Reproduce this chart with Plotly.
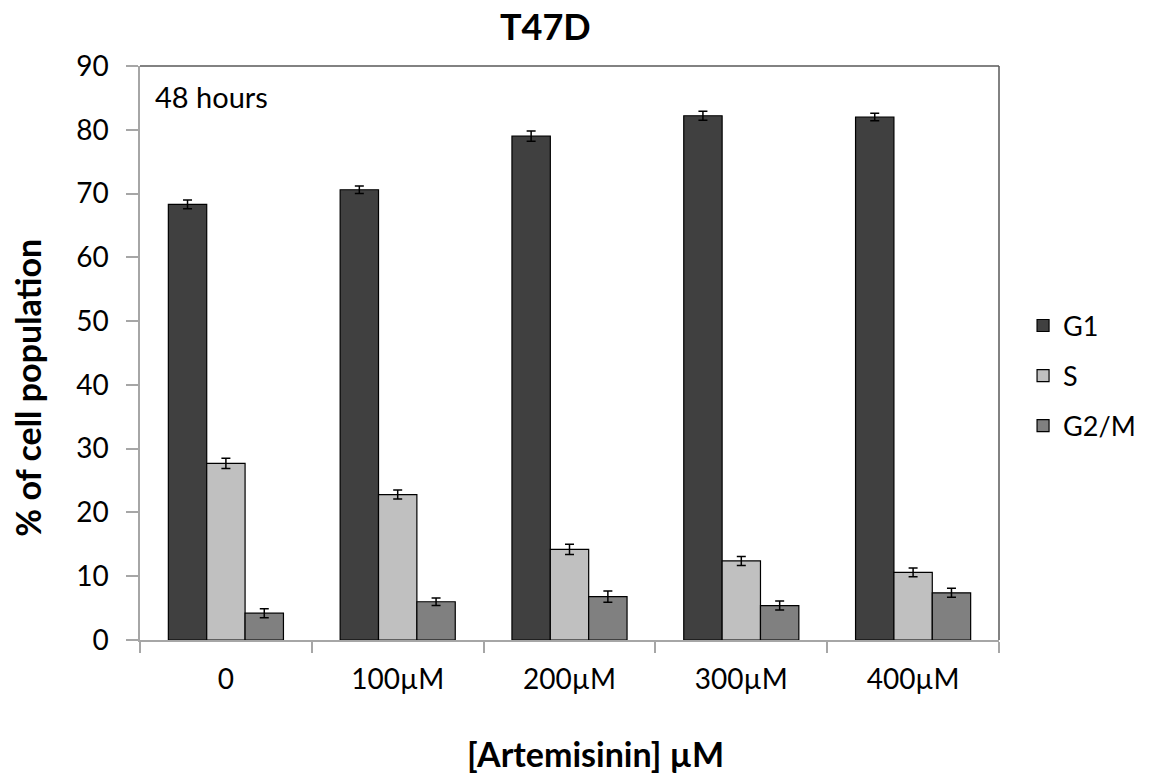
import plotly.graph_objects as go

# Cell-cycle distribution of T47D cells after 48 h of artemisinin treatment
doses = ["0", "100µM", "200µM", "300µM", "400µM"]
g1 = [68.3, 70.6, 79.0, 82.2, 82.0]
s_phase = [27.7, 22.8, 14.2, 12.4, 10.6]
g2m = [4.2, 6.0, 6.8, 5.4, 7.4]
g1_err = [0.7, 0.6, 0.8, 0.7, 0.6]
s_err = [0.8, 0.7, 0.8, 0.7, 0.7]
g2m_err = [0.7, 0.6, 0.9, 0.7, 0.7]

phases = [
    ("G1", g1, g1_err, "#404040"),
    ("S", s_phase, s_err, "#c0c0c0"),
    ("G2/M", g2m, g2m_err, "#808080"),
]

FONT = "Lato, 'Open Sans', sans-serif"

fig = go.Figure()
for name, vals, errs, color in phases:
    fig.add_trace(go.Bar(
        name=name, x=doses, y=vals, legendgroup=name,
        marker=dict(color=color, line=dict(color="#000000", width=1.2)),
        error_y=dict(type="data", array=errs, visible=True,
                     color="#000000", thickness=1.5, width=4.5),
    ))

fig.update_layout(
    width=1153, height=773,
    margin=dict(l=140, r=151, t=66, b=133),
    paper_bgcolor="white", plot_bgcolor="white",
    barmode="group", bargap=0.33, bargroupgap=0,
    font=dict(family=FONT, size=24, color="#000000"),
    showlegend=True,
    legend=dict(x=1.028, y=0.46, xanchor="left", yanchor="middle",
                font=dict(size=27), tracegroupgap=12,
                bgcolor="rgba(0,0,0,0)"),
    title=dict(text="<b>T47D</b>", x=0.473, xanchor="center",
               y=0.965, yanchor="middle", font=dict(size=36)),
)

fig.update_yaxes(
    range=[0, 90], dtick=10, showgrid=False, zeroline=False,
    showline=True, linecolor="#a6a6a6", linewidth=1.5,
    ticks="outside", ticklen=12, tickcolor="#a6a6a6", tickwidth=1.5,
    tickfont=dict(size=28), ticklabelstandoff=12,
)
fig.update_xaxes(
    showgrid=False, showline=True, linecolor="#a6a6a6", linewidth=1.5,
    ticks="outside", tickson="boundaries", ticklen=11,
    tickcolor="#a6a6a6", tickwidth=1.5, tickfont=dict(size=28),
    ticklabelstandoff=14,
)

# darker frame along the top and right of the plotting area
fig.add_shape(type="line", xref="paper", yref="paper", x0=0, x1=1, y0=1, y1=1,
              line=dict(color="#595959", width=1.5))
fig.add_shape(type="line", xref="paper", yref="paper", x0=1, x1=1, y0=0, y1=1,
              line=dict(color="#595959", width=1.5))

fig.add_annotation(text="48 hours", xref="paper", yref="paper",
                   x=0.015, y=0.946, xanchor="left", yanchor="middle",
                   showarrow=False, font=dict(size=29))
fig.add_annotation(text="<b>% of cell population</b>", xref="paper", yref="paper",
                   x=-0.132, y=0.439, xanchor="center", yanchor="middle",
                   textangle=-90, showarrow=False, font=dict(size=34))
fig.add_annotation(text="<b>[Artemisinin] µM</b>", xref="paper", yref="paper",
                   x=0.53, y=-0.197, xanchor="center", yanchor="middle",
                   showarrow=False, font=dict(size=34))

fig.write_html("out.html")
